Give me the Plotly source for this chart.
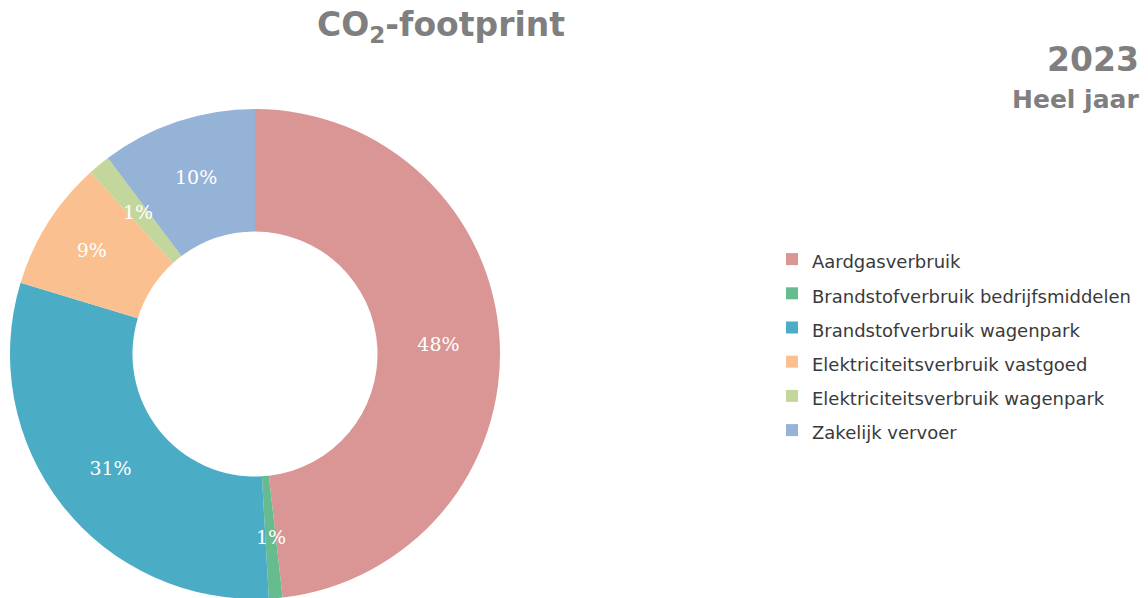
import math
import plotly.graph_objects as go

categories = [
    "Aardgasverbruik",
    "Brandstofverbruik bedrijfsmiddelen",
    "Brandstofverbruik wagenpark",
    "Elektriciteitsverbruik vastgoed",
    "Elektriciteitsverbruik wagenpark",
    "Zakelijk vervoer",
]
shares = [48.2, 0.9, 30.6, 8.6, 1.45, 10.25]
colors = ["#D99694", "#66BB8F", "#4BACC6", "#FAC090", "#C3D69B", "#95B3D7"]

title_text = "CO<sub>2</sub>-footprint"
year_text = "2023"
period_text = "Heel jaar"

legend_labels = [f"<span style='font-size:18px'>{c}</span>" for c in categories]

# the page adds an 8px body margin; positions below are page pixels
OFF = 8
W, H = 1148, 598


def px(x):
    return (x - OFF) / W


def py(y):
    return 1 - (y - OFF) / H


cx, cy, r = 255, 354, 245
HOLE = 0.5
label_font = dict(family="DejaVu Serif", size=19, color="white")

total = sum(shares)
tiny = [s / total < 0.02 for s in shares]

fig = go.Figure(
    go.Pie(
        labels=legend_labels,
        values=shares,
        sort=False,
        direction="clockwise",
        hole=HOLE,
        marker=dict(colors=colors, line=dict(width=0)),
        texttemplate="%{percent:.0%}",
        textposition=["none" if t else "inside" for t in tiny],
        insidetextorientation="horizontal",
        textfont=label_font,
        hoverinfo="label+percent",
        domain=dict(x=[px(cx - r), px(cx + r)],
                    y=[py(cy + r), py(cy - r)]),
    )
)

# labels for the very thin slices, at mid-ring along each slice's bisector
annotations = []
cum = 0.0
rmid = r * (1 + HOLE) / 2
for s, t in zip(shares, tiny):
    mid = (cum + s / 2) / total * 2 * math.pi
    cum += s
    if not t:
        continue
    x = cx + rmid * math.sin(mid)
    y = cy - rmid * math.cos(mid)
    annotations.append(dict(text=f"{round(s / total * 100)}%", x=px(x), y=py(y),
                            xref="paper", yref="paper", xanchor="center", yanchor="middle",
                            showarrow=False, font=label_font))

annotations += [
    dict(text=title_text, x=px(441), y=py(27), xref="paper", yref="paper",
         xanchor="center", yanchor="middle", showarrow=False,
         font=dict(family="DejaVu Sans", size=33, color="#7F7F7F", weight="bold")),
    dict(text=year_text, x=px(1141), y=py(59), xref="paper", yref="paper",
         xanchor="right", yanchor="middle", showarrow=False,
         font=dict(family="DejaVu Sans", size=33, color="#7F7F7F", weight="bold")),
    dict(text=period_text, x=px(1141), y=py(99), xref="paper", yref="paper",
         xanchor="right", yanchor="middle", showarrow=False,
         font=dict(family="DejaVu Sans", size=25, color="#7F7F7F", weight="bold")),
]

fig.update_layout(
    width=W,
    height=H,
    margin=dict(l=0, r=0, t=0, b=0),
    paper_bgcolor="white",
    plot_bgcolor="white",
    legend=dict(
        x=px(772),
        y=py(237),
        xanchor="left",
        yanchor="top",
        font=dict(family="DejaVu Sans", size=24, color="#3A3A3A"),
        bgcolor="rgba(0,0,0,0)",
    ),
    annotations=annotations,
)

fig.write_html("out.html")
